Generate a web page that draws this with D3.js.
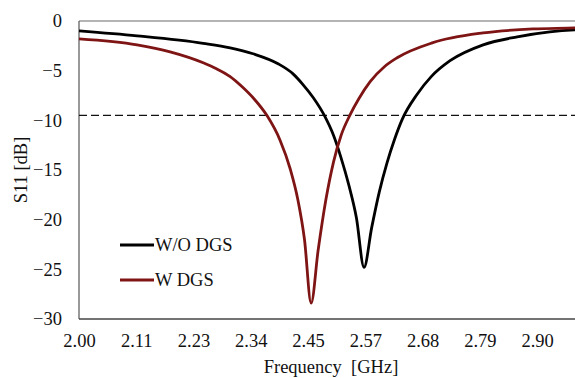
<!DOCTYPE html>
<html><head><meta charset="utf-8">
<script src="https://cdn.jsdelivr.net/npm/d3@7"></script>
<style>body{margin:0;background:#fff}svg{display:block}
svg text{font-family:"Liberation Serif","Times New Roman",serif !important;font-size:18.5px;fill:#111}</style>
</head><body>
<svg id="c" width="575" height="378"></svg>
<script>
const freqWO = [2.000,2.114,2.244,2.297,2.342,2.391,2.420,2.440,2.460,2.483,2.500,2.515,2.530,2.545,2.560,2.575,2.590,2.605,2.620,2.635,2.664,2.692,2.729,2.794,2.861,2.925,2.974,3.000];
const s11WO  = [-1.0,-1.5,-2.25,-2.7,-3.3,-4.3,-5.3,-6.4,-7.7,-9.6,-11.5,-13.8,-16.5,-19.8,-24.8,-20.8,-17.2,-14.3,-11.9,-9.9,-7.4,-5.6,-4.0,-2.4,-1.6,-1.1,-0.9,-0.85];
const freqW  = [2.000,2.114,2.179,2.244,2.270,2.297,2.320,2.345,2.369,2.395,2.415,2.430,2.443,2.456,2.470,2.485,2.500,2.515,2.532,2.550,2.572,2.600,2.625,2.694,2.794,2.892,2.974,3.000];
const s11W   = [-1.8,-2.4,-3.1,-4.2,-4.8,-5.6,-6.6,-7.9,-9.5,-12.0,-14.9,-18.0,-22.0,-28.4,-23.0,-18.0,-14.2,-11.5,-9.5,-7.8,-6.1,-4.6,-3.7,-2.2,-1.2,-0.8,-0.7,-0.65];
const xTicks = [2.0,2.1125,2.225,2.3375,2.45,2.5625,2.675,2.7875,2.9];
const xTickLabels = ["2.00","2.11","2.23","2.34","2.45","2.57","2.68","2.79","2.90"];
const yTicks = [0,-5,-10,-15,-20,-25,-30];
const threshold = -9.5;
const seriesNames = ["W/O DGS","W DGS"];
const seriesColors = ["#000000","#7e1414"];

const svg = d3.select("#c");
const L=79, R=588, T=21, B=319;
const x = d3.scaleLinear().domain([2,3]).range([L,R]);
const y = d3.scaleLinear().domain([-30,0]).range([B,T]);

svg.append("line").attr("x1",L).attr("x2",575).attr("y1",T).attr("y2",T).attr("stroke","#6a6a6a").attr("stroke-width",1.2);
svg.append("line").attr("x1",L).attr("x2",L).attr("y1",T).attr("y2",B).attr("stroke","#555").attr("stroke-width",1.2);
svg.append("line").attr("x1",L).attr("x2",575).attr("y1",B).attr("y2",B).attr("stroke","#444").attr("stroke-width",1.3);

const xAxis = d3.axisBottom(x).tickValues(xTicks).tickFormat((d,i)=>xTickLabels[i]).tickSize(0).tickPadding(15);
const gx = svg.append("g").attr("transform",`translate(0,${B})`).call(xAxis);
gx.select(".domain").remove();

const yAxis = d3.axisLeft(y).tickValues(yTicks).tickFormat(d3.format("d")).tickSize(0).tickPadding(17);
const gy = svg.append("g").attr("transform",`translate(${L},0)`).call(yAxis);
gy.select(".domain").remove();

svg.append("line").attr("x1",L).attr("x2",575).attr("y1",y(threshold)).attr("y2",y(threshold))
  .attr("stroke","#111").attr("stroke-width",1.2).attr("stroke-dasharray","8,4");

const line = d3.line().x(d=>x(d[0])).y(d=>y(d[1])).curve(d3.curveMonotoneX);
const dataWO = freqWO.map((f,i)=>[f,s11WO[i]]);
const dataW = freqW.map((f,i)=>[f,s11W[i]]);
svg.append("path").datum(dataWO).attr("d",line).attr("fill","none").attr("stroke",seriesColors[0]).attr("stroke-width",2.8);
svg.append("path").datum(dataW).attr("d",line).attr("fill","none").attr("stroke",seriesColors[1]).attr("stroke-width",2.8);

const leg = [[245,0],[280,1]];
leg.forEach(([ly,i])=>{
  svg.append("line").attr("x1",120).attr("x2",154).attr("y1",ly).attr("y2",ly).attr("stroke",seriesColors[i]).attr("stroke-width",2.8);
  svg.append("text").attr("x",155).attr("y",ly+6).text(seriesNames[i]);
});

svg.append("text").attr("x",331).attr("y",373).attr("text-anchor","middle")
  .style("white-space","pre").text("Frequency  [GHz]");
svg.append("text").attr("transform","translate(27,170) rotate(-90)").attr("text-anchor","middle").text("S11 [dB]");
</script>
</body></html>
